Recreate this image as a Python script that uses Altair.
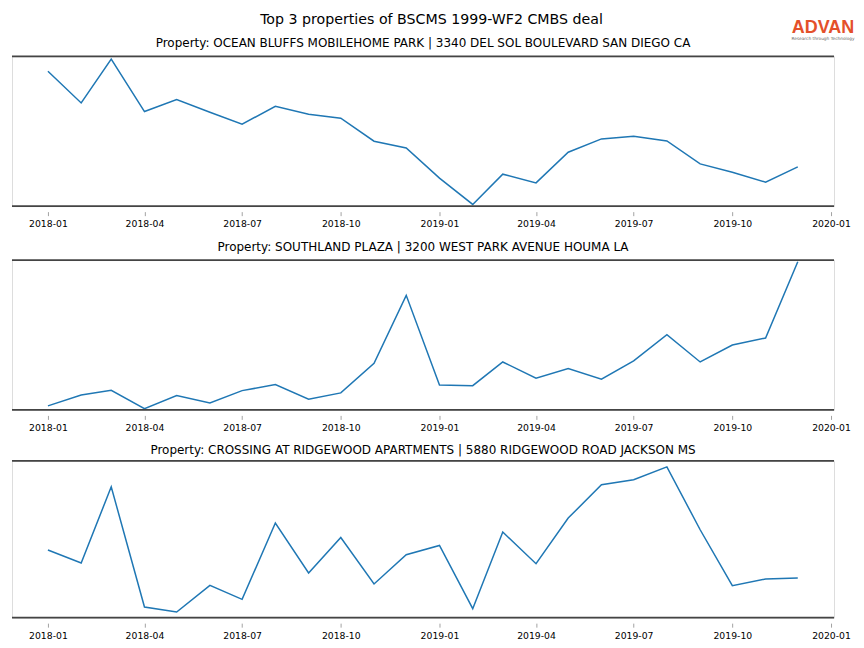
import altair as alt
import pandas as pd

MAIN_TITLE = "Top 3 properties of BSCMS 1999-WF2 CMBS deal"
LOGO = "ADVAN"
LOGO_TAG = "Research through Technology"

months = [
    "2018-01-01", "2018-02-01", "2018-03-01", "2018-04-01", "2018-05-01", "2018-06-01",
    "2018-07-01", "2018-08-01", "2018-09-01", "2018-10-01", "2018-11-01", "2018-12-01",
    "2019-01-01", "2019-02-01", "2019-03-01", "2019-04-01", "2019-05-01", "2019-06-01",
    "2019-07-01", "2019-08-01", "2019-09-01", "2019-10-01", "2019-11-01", "2019-12-01",
]

titles = [
    "Property: OCEAN BLUFFS MOBILEHOME PARK | 3340 DEL SOL BOULEVARD SAN DIEGO CA",
    "Property: SOUTHLAND PLAZA | 3200 WEST PARK AVENUE HOUMA LA",
    "Property: CROSSING AT RIDGEWOOD APARTMENTS | 5880 RIDGEWOOD ROAD JACKSON MS",
]

# relative activity (arbitrary units)
ocean_bluffs = [135, 103.3, 147.3, 94.7, 106.7, 94, 82, 100, 92, 88, 65, 58.3,
                28, 1.7, 32, 23.3, 54, 67.3, 70, 65.3, 42.3, 34, 24, 39.3]
southland = [4, 15, 19.7, 1.3, 14.3, 7, 19.3, 25.3, 10.7, 17, 46.7, 114.7,
             25, 24.3, 48, 31.7, 41.3, 30.7, 49, 75.3, 48, 65, 72, 148.3]
ridgewood = [67.7, 54.7, 131, 10.7, 5.7, 32.3, 18.3, 94.7, 44.7, 80.3, 33.7, 63,
             72.3, 9, 85.7, 54, 99.7, 133, 138, 151, 88, 32, 38.7, 39.7]

y_domains = [[0, 150], [0, 150], [0, 157]]
heights = [150, 150, 157]
title_y = [-13.5, -13.5, -10.5]

W = 823
FONT = "DejaVu Sans"
SPINE = "#444444"

tick_values = [
    alt.DateTime(year=y, month=m, date=1, utc=True)
    for (y, m) in [(2018, 1), (2018, 4), (2018, 7), (2018, 10), (2019, 1), (2019, 4),
                   (2019, 7), (2019, 10), (2020, 1)]
]

x_scale = alt.Scale(
    type="utc",
    domain=[alt.DateTime(year=2017, month=11, date=28, hours=12, utc=True),
            alt.DateTime(year=2020, month=1, date=3, hours=19, utc=True)],
)


def text_layer(txt, x, y, **kw):
    return alt.Chart(pd.DataFrame({"t": [txt]})).mark_text(
        align="center", baseline="middle", **kw
    ).encode(text="t:N", x=alt.value(x), y=alt.value(y))


def panel(values, idx, extra=None):
    df = pd.DataFrame({"date": months, "value": values})
    h = heights[idx]
    line = alt.Chart(df).mark_line(color="#1f77b4", strokeWidth=1.5).encode(
        x=alt.X("date:T", scale=x_scale,
                axis=alt.Axis(values=tick_values, labelExpr="utcFormat(datum.value, '%Y-%m')",
                              title=None, grid=False, labelFont=FONT, labelFontSize=9.3,
                              labelColor="black", tickSize=4, tickColor="#999999",
                              tickWidth=0.9, labelPadding=4, domain=False, offset=5.5,
                              labelFlush=False)),
        y=alt.Y("value:Q", scale=alt.Scale(domain=y_domains[idx]), axis=None),
    )
    spines = alt.Chart(pd.DataFrame({"pos": [0, h]})).mark_rule(
        color=SPINE, strokeWidth=1.8
    ).encode(x=alt.value(0), x2=alt.value(W), y=alt.Y("pos:Q", scale=None, axis=None))
    sub = text_layer(titles[idx], W / 2, title_y[idx], font=FONT, fontSize=12, color="black")
    layers = [line, spines, sub]
    if extra:
        layers += extra
    return alt.layer(*layers).properties(width=W, height=h)


main_title = text_layer(MAIN_TITLE, 420, -36, font=FONT, fontSize=14.2, color="black")
logo = text_layer(LOGO, 812, -28, font="Liberation Sans", fontSize=18,
                  fontWeight="bold", color="#e4502a")
logo_tag = text_layer(LOGO_TAG, 812, -17, font=FONT, fontSize=4.3, color="#666666")

p1 = panel(ocean_bluffs, 0, [main_title, logo, logo_tag])
p2 = panel(southland, 1)
p3 = panel(ridgewood, 2)

chart = alt.vconcat(
    p1,
    alt.vconcat(p2, p3, spacing=51, bounds="flush"),
    spacing=54, bounds="flush",
).properties(
    padding={"left": 2, "top": 4, "right": 0, "bottom": 0}
).configure_view(stroke=None).configure(font=FONT)

chart.save("out.html", embed_options={"renderer": "svg", "actions": False})
